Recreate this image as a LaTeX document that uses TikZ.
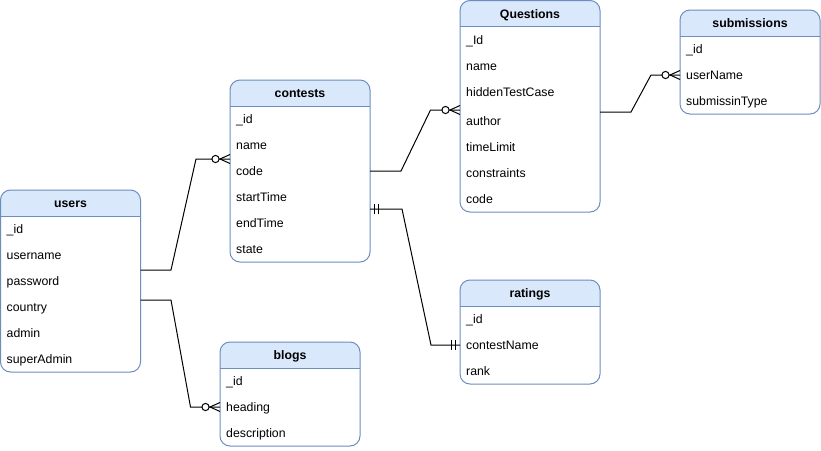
\documentclass[tikz,border=0pt]{standalone}
\usepackage{fontspec}
\setmainfont{Liberation Sans}
\usetikzlibrary{calc}
\definecolor{hdrblue}{HTML}{DAE8FC}
\definecolor{edgeblue}{HTML}{6C8EBF}
\tikzset{
  tablebox/.style={inner sep=0pt, outer sep=0pt, anchor=north west},
  border/.style={draw=edgeblue, line width=1pt},
  titletxt/.style={font=\fontsize{12.3pt}{14pt}\selectfont\bfseries, inner sep=0pt, text height=9pt, text depth=3pt},
  rowtxt/.style={font=\fontsize{12.3pt}{14pt}\selectfont, inner sep=0pt, anchor=west, text height=9pt, text depth=3pt},
  conn/.style={draw=black, line width=1pt},
  % crow's foot: zero or many, origin on the table edge, line arriving from -x
  zeromany/.pic={
    \draw[conn] (0,-4.5) -- (-10,0) -- (0,4.5);
    \draw[conn, fill=white] (-14.5,0) circle[radius=3.6pt];
  },
  % exactly one: two bars across the line
  exactlyone/.pic={
    \draw[conn] (-4.5,-5) -- (-4.5,5);
    \draw[conn] (-8.5,-5) -- (-8.5,5);
  }
}
% #1 name, #2 x, #3 y, #4 width, #5 height, #6 title
\newcommand{\ertable}[6]{%
  \node[tablebox, minimum width=#4pt, minimum height=#5pt] (#1) at (#2,#3) {};
  \begin{scope}
    \clip (#1.north west) rectangle ($(#1.north east)+(0,26)$);
    \fill[hdrblue, rounded corners=10pt] (#1.north west) rectangle (#1.south east);
  \end{scope}
  \draw[border] ($(#1.north west)+(0,26)$) -- ($(#1.north east)+(0,26)$);
  \draw[border, rounded corners=10pt] (#1.north west) rectangle (#1.south east);
  \node[titletxt] (#1-title) at ($(#1.north)+(0,14.8)$) {#6};
}
% #1 table, #2 row id, #3 offset from the top, #4 text
\newcommand{\errow}[4]{%
  \node[rowtxt] (#1-#2) at ($(#1.north west)+(6,#3+1.3)$) {#4};
}
\begin{document}
\begin{tikzpicture}[x=1pt, y=-1pt]
  \useasboundingbox (0,0) rectangle (821,450);

  % users
  \ertable{users}{0.5}{190}{140}{182}{users}
  \errow{users}{1}{39}{\_id}
  \errow{users}{2}{65}{username}
  \errow{users}{3}{91}{password}
  \errow{users}{4}{117}{country}
  \errow{users}{5}{143}{admin}
  \errow{users}{6}{169}{superAdmin}

  % contests
  \ertable{contests}{230}{80}{140}{182}{contests}
  \errow{contests}{1}{39}{\_id}
  \errow{contests}{2}{65}{name}
  \errow{contests}{3}{91}{code}
  \errow{contests}{4}{117}{startTime}
  \errow{contests}{5}{143}{endTime}
  \errow{contests}{6}{169}{state}

  % Questions
  \ertable{questions}{460}{0.5}{140}{211.5}{Questions}
  \errow{questions}{1}{39.5}{\_Id}
  \errow{questions}{2}{65.5}{name}
  \errow{questions}{3}{91.5}{hiddenTestCase}
  \errow{questions}{4}{120.5}{author}
  \errow{questions}{5}{146.5}{timeLimit}
  \errow{questions}{6}{172.5}{constraints}
  \errow{questions}{7}{198.5}{code}

  % submissions
  \ertable{submissions}{680}{10}{140}{104}{submissions}
  \errow{submissions}{1}{39}{\_id}
  \errow{submissions}{2}{65}{userName}
  \errow{submissions}{3}{91}{submissinType}

  % ratings
  \ertable{ratings}{460}{280}{140}{104}{ratings}
  \errow{ratings}{1}{39}{\_id}
  \errow{ratings}{2}{65}{contestName}
  \errow{ratings}{3}{91}{rank}

  % blogs
  \ertable{blogs}{220}{342}{140}{104}{blogs}
  \errow{blogs}{1}{39}{\_id}
  \errow{blogs}{2}{65}{heading}
  \errow{blogs}{3}{91}{description}

  % connection points on the table edges
  \coordinate (uc-a) at ($(users.north east)+(0,80)$);
  \coordinate (uc-b) at ($(contests.north west)+(0,79)$);
  \coordinate (cq-a) at ($(contests.north east)+(0,91)$);
  \coordinate (cq-b) at ($(questions.north west)+(0,109.5)$);
  \coordinate (qs-a) at ($(questions.north east)+(0,111.5)$);
  \coordinate (qs-b) at ($(submissions.north west)+(0,65)$);
  \coordinate (cr-a) at ($(contests.north east)+(0,129)$);
  \coordinate (cr-b) at ($(ratings.north west)+(0,65)$);
  \coordinate (ub-a) at ($(users.north east)+(0,110)$);
  \coordinate (ub-b) at ($(blogs.north west)+(0,65)$);

  % relationships
  \draw[conn] (uc-a) -- ++(30.5,0) -- ($(uc-b)+(-34,0)$) -- (uc-b);
  \draw[conn] (cq-a) -- ++(31,0) -- ($(cq-b)+(-29.5,0)$) -- (cq-b);
  \draw[conn] (qs-a) -- ++(31,0) -- ($(qs-b)+(-29,0)$) -- (qs-b);
  \draw[conn] (cr-a) -- ++(32,0) -- ($(cr-b)+(-29,0)$) -- (cr-b);
  \draw[conn] (ub-a) -- ++(30.5,0) -- ($(ub-b)+(-29.5,0)$) -- (ub-b);

  % cardinality marks
  \pic at (uc-b) {zeromany};
  \pic at (cq-b) {zeromany};
  \pic at (qs-b) {zeromany};
  \pic at (ub-b) {zeromany};
  \pic[rotate=180] at (cr-a) {exactlyone};
  \pic at (cr-b) {exactlyone};
\end{tikzpicture}
\end{document}
